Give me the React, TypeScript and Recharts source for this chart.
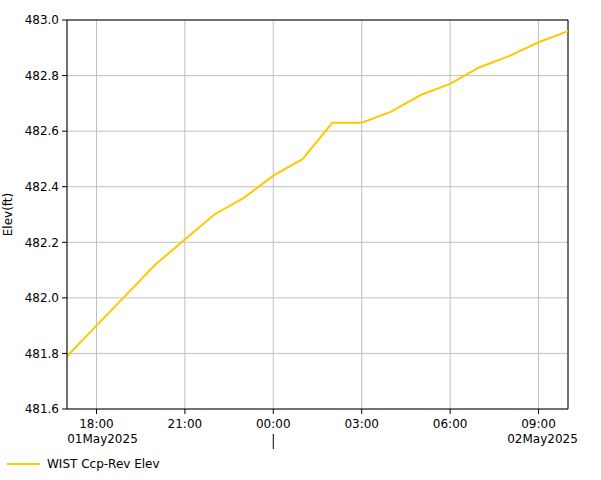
import React from 'react';
import { LineChart, Line, XAxis, YAxis, CartesianGrid, ReferenceLine } from 'recharts';

// hours after 01May2025 17:00
const hours = [0, 1, 2, 3, 4, 5, 6, 7, 8, 9, 10, 11, 12, 13, 14, 15, 16, 17];
const elev = [481.79, 481.90, 482.01, 482.12, 482.21, 482.30, 482.36, 482.44, 482.50, 482.63, 482.63, 482.67, 482.73, 482.77, 482.83, 482.87, 482.92, 482.96];
const xTicks = [1, 4, 7, 10, 13, 16];
const xTickLabels = ['18:00', '21:00', '00:00', '03:00', '06:00', '09:00'];
const yTicks = [481.6, 481.8, 482.0, 482.2, 482.4, 482.6, 482.8, 483.0];
const dateLabels: Record<number, string> = { 1: '01May2025', 16: '02May2025' };
const seriesName = 'WIST Ccp-Rev Elev';
const yLabel = 'Elev(ft)';

const data = hours.map((h, i) => ({ h, v: elev[i] }));

const FONT = 'DejaVu Sans, Verdana, sans-serif';
const LINE = '#ffc800';

function TimeTick(props: any) {
    const { x, y, payload } = props;
    const idx = xTicks.indexOf(payload.value);
    const date = dateLabels[payload.value];
    return (
        <g>
            <text x={x} y={y + 12} textAnchor="middle" fontSize={12} fontFamily={FONT} fill="#000">
                {xTickLabels[idx]}
            </text>
            {date && (
                <text x={x + (payload.value === 1 ? 6 : 4)} y={y + 27} textAnchor="middle" fontSize={12} fontFamily={FONT} fill="#000">
                    {date}
                </text>
            )}
            {payload.value === 7 && <line x1={x} x2={x} y1={y + 18} y2={y + 33} stroke="#000" />}
        </g>
    );
}

function YLabel(props: any) {
    const { viewBox } = props;
    const cy = viewBox.y + viewBox.height / 2;
    return (
        <text
            x={12}
            y={cy}
            transform={`rotate(-90, 12, ${cy})`}
            textAnchor="middle"
            fontSize={12}
            fontFamily={FONT}
            fill="#000"
        >
            {yLabel}
        </text>
    );
}

export default function App() {
    return (
        <div style={{ position: 'absolute', left: 0, top: 0, width: 601, height: 480, background: '#fff' }}>
            <LineChart width={601} height={480} data={data} margin={{ top: 20, right: 33, left: 0, bottom: 0 }}>
                <CartesianGrid stroke="#c0c0c0" strokeWidth={1} />
                <ReferenceLine y={483.0} stroke="#000" />
                <ReferenceLine x={17} stroke="#000" />
                <XAxis
                    dataKey="h"
                    type="number"
                    domain={[0, 17]}
                    ticks={xTicks}
                    height={71}
                    stroke="#000"
                    tickSize={5}
                    tick={<TimeTick />}
                    interval={0}
                />
                <YAxis
                    type="number"
                    domain={[481.6, 483.0]}
                    ticks={yTicks}
                    width={67}
                    stroke="#000"
                    tickSize={5}
                    tickMargin={3}
                    interval={0}
                    tickFormatter={(v: number) => v.toFixed(1)}
                    tick={{ fontSize: 12, fontFamily: FONT, fill: '#000' }}
                    label={<YLabel />}
                />
                <Line
                    type="linear"
                    dataKey="v"
                    name={seriesName}
                    stroke={LINE}
                    strokeWidth={2}
                    dot={false}
                    isAnimationActive={false}
                />
            </LineChart>
            <div style={{ position: 'absolute', left: 7, top: 457, display: 'flex', alignItems: 'center', fontFamily: FONT, fontSize: 12 }}>
                <div style={{ width: 33, height: 2, background: LINE, marginRight: 7 }} />
                <span>{seriesName}</span>
            </div>
        </div>
    );
}
